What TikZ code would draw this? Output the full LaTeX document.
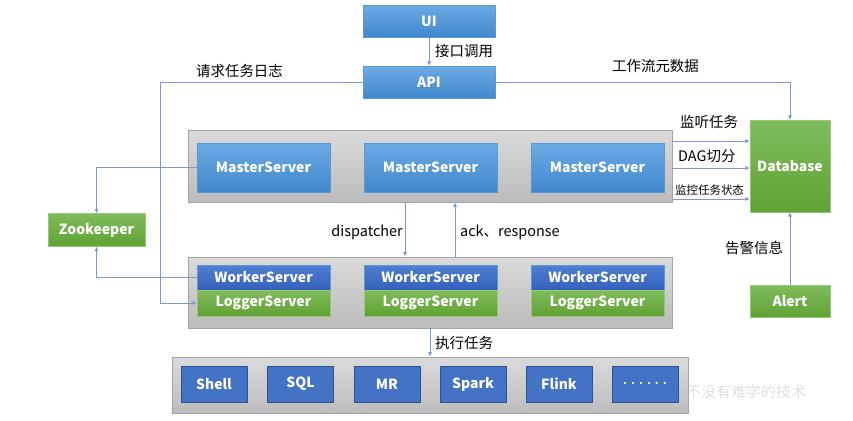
\documentclass[tikz,border=0pt]{standalone}
\usepackage{fontspec}
\setmainfont{Noto Sans CJK SC}
\usetikzlibrary{arrows.meta}
\definecolor{bluetop}{RGB}{108,170,228}
\definecolor{bluebot}{RGB}{66,136,206}
\definecolor{blueedge}{RGB}{92,152,214}
\definecolor{greentop}{RGB}{128,188,92}
\definecolor{greenbot}{RGB}{96,162,52}
\definecolor{greenedge}{RGB}{150,200,120}
\definecolor{wktop}{RGB}{80,126,210}
\definecolor{wkbot}{RGB}{52,96,186}
\definecolor{taskfill}{RGB}{68,114,196}
\definecolor{taskedge}{RGB}{47,82,143}
\definecolor{graytop}{RGB}{218,218,218}
\definecolor{graybot}{RGB}{188,188,188}
\definecolor{grayedge}{RGB}{165,165,165}
\definecolor{connc}{RGB}{122,152,216}
\begin{document}
\begin{tikzpicture}[x=1bp,y=-1bp,
  boxtext/.style={text=white,font=\fontsize{14}{16}\selectfont\bfseries,inner sep=0pt},
  bluebox/.style={boxtext,draw=blueedge,top color=bluetop,bottom color=bluebot},
  greenbox/.style={boxtext,draw=greenedge,top color=greentop,bottom color=greenbot},
  workbox/.style={boxtext,draw=blueedge,top color=wktop,bottom color=wkbot},
  taskbox/.style={boxtext,draw=taskedge,line width=0.8bp,fill=taskfill,minimum width=66bp,minimum height=36bp},
  grpbox/.style={draw=grayedge,line width=0.8bp,top color=graytop,bottom color=graybot,inner sep=0pt},
  conn/.style={draw=connc,line width=0.7bp,-{Latex[length=4.5bp,width=4bp]}},
  lbl/.style={font=\fontsize{14.5}{16}\selectfont,inner sep=0pt,text=black},
  slbl/.style={font=\fontsize{11.5}{13}\selectfont,inner sep=0pt,text=black}
]
\useasboundingbox (0,0) rectangle (853,420);

% watermark
\node[font=\fontsize{15}{16}\selectfont\itshape,text=black!12,anchor=west,inner sep=0pt] (wm) at (686,392) {不没有难学的技术};

% top
\node[bluebox,minimum width=132bp,minimum height=32bp] (ui) at (429,21) {UI};
\node[bluebox,minimum width=132bp,minimum height=32bp] (api) at (429,82) {API};

% groups
\node[grpbox,minimum width=484bp,minimum height=72bp] (mg) at (430,166) {};
\node[grpbox,minimum width=484bp,minimum height=71bp] (wg) at (430,292.5) {};
\node[grpbox,minimum width=516bp,minimum height=56bp] (tg) at (430,385) {};

% masters
\node[bluebox,minimum width=133bp,minimum height=49bp] (m1) at (263.5,167.5) {MasterServer};
\node[bluebox,minimum width=133bp,minimum height=49bp] (m2) at (430.5,167.5) {MasterServer};
\node[bluebox,minimum width=133bp,minimum height=49bp] (m3) at (597.5,167.5) {MasterServer};

% workers / loggers
\node[workbox,minimum width=133bp,minimum height=25bp] (w1) at (263.5,277.5) {WorkerServer};
\node[workbox,minimum width=133bp,minimum height=25bp] (w2) at (430.5,277.5) {WorkerServer};
\node[workbox,minimum width=133bp,minimum height=25bp] (w3) at (597.5,277.5) {WorkerServer};
\node[greenbox,minimum width=133bp,minimum height=26bp] (l1) at (263.5,303) {LoggerServer};
\node[greenbox,minimum width=133bp,minimum height=26bp] (l2) at (430.5,303) {LoggerServer};
\node[greenbox,minimum width=133bp,minimum height=26bp] (l3) at (597.5,303) {LoggerServer};

% tasks
\node[taskbox] (t1) at (214,384) {Shell};
\node[taskbox] (t2) at (300.5,384) {SQL};
\node[taskbox] (t3) at (387,384) {MR};
\node[taskbox] (t4) at (473,384) {Spark};
\node[taskbox] (t5) at (559,384) {Flink};
\node[taskbox] (t6) at (645,384) {\fontsize{8}{10}\selectfont ······};

% side boxes
\node[greenbox,minimum width=80bp,minimum height=92bp] (db) at (790,166) {Database};
\node[greenbox,minimum width=80bp,minimum height=32bp] (alert) at (790,301) {Alert};
\node[greenbox,minimum width=97bp,minimum height=33bp] (zk) at (96.5,230) {Zookeeper};

% coordinates
\coordinate (cL) at (160,82);
\coordinate (yA) at (0,141);
\coordinate (yB) at (0,168);
\coordinate (yC) at (0,199);
\coordinate (xD) at (405,0);
\coordinate (xK) at (455,0);
\coordinate (xE) at (430,0);

% connectors
\draw[conn] (ui) -- (api);
\draw[conn] (api.west) -- (cL) |- (l1.west);
\draw[conn] (api.east) -| (db.north);
\draw[conn] (m1.west) -| (zk.north);
\draw[conn] (w1.west) -| (zk.south);
\draw[conn] (mg.south -| xD) -- (wg.north -| xD);
\draw[conn] (wg.north -| xK) -- (mg.south -| xK);
\draw[conn] (wg.south -| xE) -- (tg.north -| xE);
\draw[conn] (mg.east |- yA) -- (db.west |- yA);
\draw[conn] (mg.east |- yB) -- (db.west |- yB);
\draw[conn] (mg.east |- yC) -- (db.west |- yC);
\draw[conn] (alert.north) -- (db.south);

% labels
\node[lbl,anchor=west] (l_jk) at (435,51) {接口调用};
\node[lbl,anchor=west] (l_qq) at (196,71) {请求任务日志};
\node[lbl,anchor=west] (l_gz) at (612,66) {工作流元数据};
\node[lbl,anchor=west] (l_jt) at (680,122) {监听任务};
\node[lbl,anchor=west] (l_dag) at (678,156) {DAG切分};
\node[slbl,anchor=west] (l_jk2) at (675,190) {监控任务状态};
\node[lbl,anchor=east] (l_dis) at (403,232) {dispatcher};
\node[lbl,anchor=west] (l_ack) at (460,232) {ack、response};
\node[lbl,anchor=west] (l_zx) at (435,343) {执行任务};
\node[lbl,anchor=west] (l_gj) at (725,248) {告警信息};
\end{tikzpicture}
\end{document}
